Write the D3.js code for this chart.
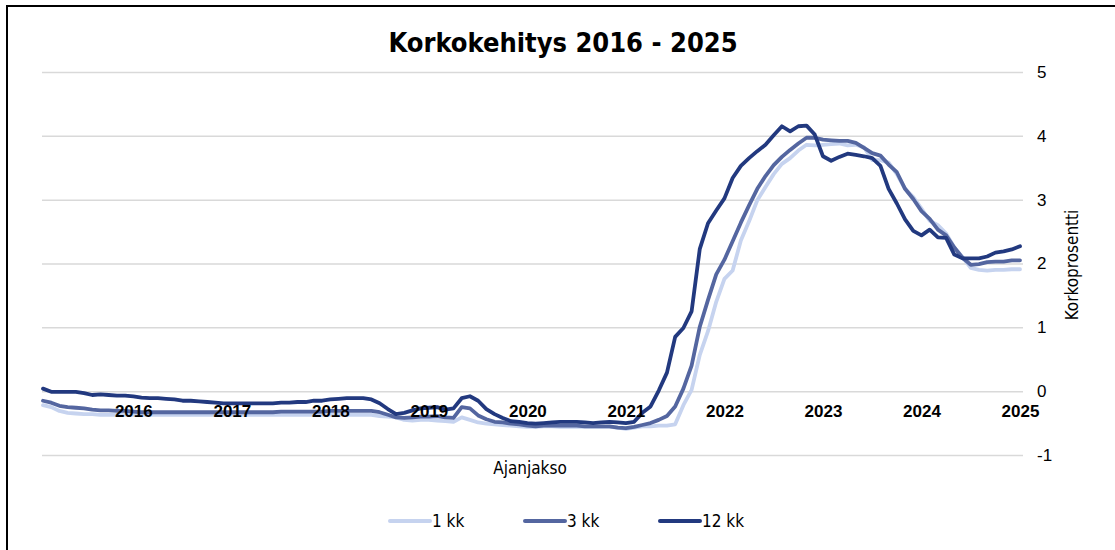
<!DOCTYPE html>
<html>
<head>
<meta charset="utf-8">
<script src="https://cdn.jsdelivr.net/npm/d3@7"></script>
<style>
  body { margin: 0; background: #fff; }
  svg { display: block; font-family: "DejaVu Sans", sans-serif; font-stretch: condensed; }
</style>
</head>
<body>
<svg width="1115" height="550"></svg>
<script>
// Year labels (placed on the December point of each year)
const yearLabels = ["2016", "2017", "2018", "2019", "2020", "2021", "2022", "2023", "2024", "2025"];

// Monthly values Jan 2016 - Dec 2025
const kk1 = [
	-0.22, -0.25, -0.31, -0.34, -0.35, -0.36, -0.36, -0.37, -0.37, -0.37, -0.37, -0.37,
	-0.37, -0.37, -0.37, -0.37, -0.37, -0.37, -0.37, -0.37, -0.37, -0.37, -0.37, -0.37,
	-0.37, -0.37, -0.37, -0.37, -0.37, -0.37, -0.37, -0.37, -0.37, -0.37, -0.37, -0.37,
	-0.37, -0.37, -0.37, -0.37, -0.37, -0.39, -0.40, -0.41, -0.45, -0.46, -0.45, -0.45,
	-0.46, -0.47, -0.48, -0.41, -0.45, -0.49, -0.51, -0.52, -0.53, -0.54, -0.55, -0.56,
	-0.56, -0.55, -0.55, -0.56, -0.56, -0.56, -0.56, -0.56, -0.56, -0.56, -0.57, -0.59,
	-0.57, -0.55, -0.55, -0.54, -0.54, -0.52, -0.22, 0.02, 0.57, 0.94, 1.40, 1.76,
	1.89, 2.36, 2.66, 2.99, 3.20, 3.40, 3.56, 3.65, 3.77, 3.86, 3.85, 3.86,
	3.87, 3.88, 3.85, 3.86, 3.82, 3.62, 3.62, 3.58, 3.40, 3.17, 3.04, 2.86,
	2.67, 2.60, 2.47, 2.25, 2.10, 1.93, 1.90, 1.89, 1.90, 1.90, 1.91, 1.91
];

const kk3 = [
	-0.15, -0.18, -0.23, -0.25, -0.26, -0.27, -0.29, -0.30, -0.30, -0.31, -0.31, -0.32,
	-0.33, -0.33, -0.33, -0.33, -0.33, -0.33, -0.33, -0.33, -0.33, -0.33, -0.33, -0.33,
	-0.33, -0.33, -0.33, -0.33, -0.33, -0.32, -0.32, -0.32, -0.32, -0.32, -0.32, -0.31,
	-0.31, -0.31, -0.31, -0.31, -0.31, -0.33, -0.37, -0.41, -0.42, -0.41, -0.40, -0.40,
	-0.39, -0.41, -0.42, -0.25, -0.27, -0.38, -0.44, -0.48, -0.49, -0.51, -0.52, -0.54,
	-0.55, -0.54, -0.54, -0.54, -0.54, -0.54, -0.55, -0.55, -0.55, -0.55, -0.57, -0.58,
	-0.56, -0.53, -0.50, -0.45, -0.39, -0.24, 0.04, 0.40, 1.01, 1.43, 1.83, 2.06,
	2.35, 2.64, 2.91, 3.17, 3.37, 3.54, 3.67, 3.78, 3.88, 3.97, 3.97, 3.94,
	3.93, 3.92, 3.92, 3.89, 3.81, 3.73, 3.69, 3.55, 3.43, 3.17, 3.01, 2.82,
	2.70, 2.53, 2.44, 2.25, 2.09, 1.98, 1.99, 2.02, 2.03, 2.03, 2.05, 2.05
];

const kk12 = [
	0.04, -0.01, -0.01, -0.01, -0.01, -0.03, -0.06, -0.05, -0.06, -0.07, -0.07, -0.08,
	-0.10, -0.11, -0.11, -0.12, -0.13, -0.15, -0.15, -0.16, -0.17, -0.18, -0.19, -0.19,
	-0.19, -0.19, -0.19, -0.19, -0.19, -0.18, -0.18, -0.17, -0.17, -0.15, -0.15, -0.13,
	-0.12, -0.11, -0.11, -0.11, -0.13, -0.19, -0.28, -0.36, -0.34, -0.30, -0.27, -0.26,
	-0.25, -0.29, -0.27, -0.11, -0.08, -0.15, -0.28, -0.36, -0.42, -0.47, -0.48, -0.50,
	-0.51, -0.50, -0.49, -0.48, -0.48, -0.48, -0.49, -0.50, -0.49, -0.48, -0.49, -0.50,
	-0.48, -0.34, -0.24, 0.01, 0.29, 0.85, 0.99, 1.25, 2.23, 2.63, 2.83, 3.02,
	3.34, 3.53, 3.65, 3.76, 3.86, 4.01, 4.15, 4.07, 4.15, 4.16, 4.02, 3.68,
	3.61, 3.67, 3.72, 3.70, 3.68, 3.65, 3.53, 3.17, 2.94, 2.69, 2.51, 2.44,
	2.53, 2.41, 2.40, 2.14, 2.08, 2.08, 2.08, 2.11, 2.17, 2.19, 2.22, 2.27
];

const seriesNames = ["1 kk", "3 kk", "12 kk"];
const seriesColors = ["#c6d3ef", "#5466a0", "#22397f"];
const yTicks = [-1, 0, 1, 2, 3, 4, 5];

const svg = d3.select("svg");

// outer frame (left + top edge visible)
svg.append("path")
	.attr("d", "M7,550 V6 H1115")
	.attr("fill", "none")
	.attr("stroke", "#000")
	.attr("stroke-width", 2);

// Scales
const x = d3.scaleLinear().domain([0, kk1.length - 1]).range([43, 1020]);
const y = d3.scaleLinear().domain([-1, 5]).range([455, 72]);

// Y axis on the right + gridlines
const yAxis = svg.append("g")
	.attr("transform", "translate(1023,0)")
	.call(d3.axisRight(y).tickValues(yTicks).tickFormat((d) => String(d))
		.tickSizeInner(-981).tickSizeOuter(0).tickPadding(14));
yAxis.select(".domain").remove();
yAxis.selectAll(".tick line").attr("stroke", "#d9d9d9").attr("stroke-width", 1.5);
yAxis.selectAll(".tick text")
	.attr("font-size", 17)
	.attr("fill", "#000");

// Lines
const line = d3.line()
	.x((d, i) => x(i))
	.y((d) => y(d));

[kk1, kk3, kk12].forEach((s, k) => {
	svg.append("path")
		.datum(s)
		.attr("fill", "none")
		.attr("stroke", seriesColors[k])
		.attr("stroke-width", 3.8)
		.attr("stroke-linejoin", "round")
		.attr("stroke-linecap", "round")
		.attr("d", line);
});

// X axis at zero (labels drawn over the lines)
const xTickVals = yearLabels.map((d, i) => i * 12 + 11);
const xAxis = svg.append("g")
	.attr("transform", `translate(0,${y(0)})`)
	.call(d3.axisBottom(x).tickValues(xTickVals).tickFormat((d, i) => yearLabels[i]).tickSize(0).tickPadding(14));
xAxis.select(".domain").remove();
xAxis.selectAll(".tick text")
	.attr("font-size", 17)
	.attr("font-weight", "bold")
	.attr("fill", "#000");

// Title
svg.append("text")
	.attr("x", 563)
	.attr("y", 52)
	.attr("text-anchor", "middle")
	.attr("font-size", 27)
	.attr("font-weight", "bold")
	.text("Korkokehitys 2016 - 2025");

// Axis titles
svg.append("text")
	.attr("x", 530)
	.attr("y", 474)
	.attr("text-anchor", "middle")
	.attr("font-size", 17)
	.text("Ajanjakso");

svg.append("text")
	.attr("transform", "translate(1078,265) rotate(-90)")
	.attr("text-anchor", "middle")
	.attr("font-size", 17)
	.text("Korkoprosentti");

// Legend
const legendX = [390, 525, 660];
const legend = svg.append("g");
seriesNames.forEach((name, k) => {
	legend.append("line")
		.attr("x1", legendX[k]).attr("x2", legendX[k] + 40)
		.attr("y1", 521).attr("y2", 521)
		.attr("stroke", seriesColors[k])
		.attr("stroke-width", 4)
		.attr("stroke-linecap", "round");
	legend.append("text")
		.attr("x", legendX[k] + 42)
		.attr("y", 527)
		.attr("font-size", 17)
		.text(name);
});
</script>
</body>
</html>
